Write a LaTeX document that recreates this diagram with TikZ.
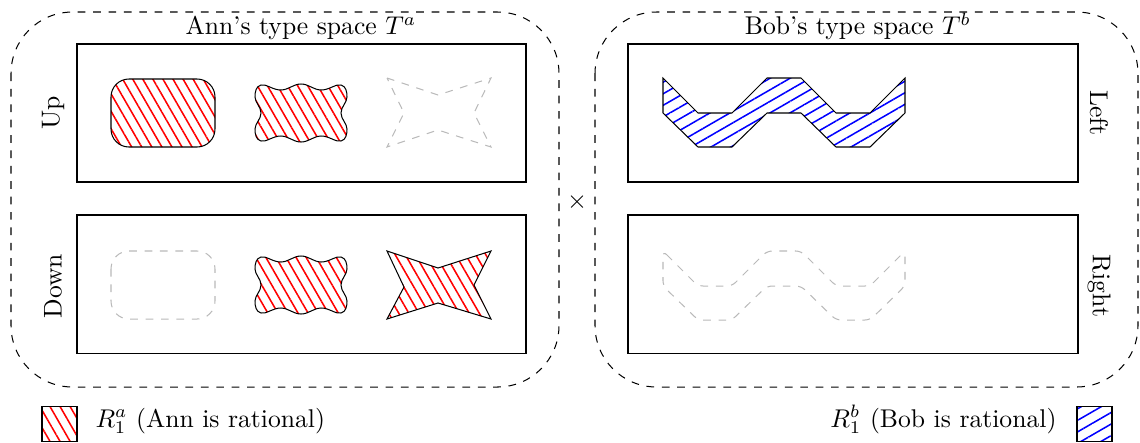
\documentclass[tikz,border=0pt]{standalone}
\usepackage{amsmath}
\usetikzlibrary{patterns.meta}

\begin{document}
\begin{tikzpicture}[x=0.39pt, y=-0.39pt,
  every node/.style={inner sep=0pt},
  space/.style={dashed, rounded corners=24pt},
  strat/.style={draw, line width=0.4pt},
  ann/.style={draw, pattern={Lines[angle=-60, distance=3.4pt, line width=0.6pt]}, pattern color=red},
  bob/.style={draw, pattern={Lines[angle=30, distance=3.9pt, line width=0.6pt]}, pattern color=blue},
  ghost/.style={draw=gray!55, dashed}]
\useasboundingbox (0,0) rectangle (1140,442);
\draw[space] (11,12) rectangle (559,387);
\draw[space] (595,12) rectangle (1138,387);
\node[anchor=base] (ta) at (301,34.5) {Ann's type space $T^a$};
\node[anchor=base] (tb) at (858,34.5) {Bob's type space $T^b$};
\node (times) at (577,202) {$\times$};
\draw[strat] (77,44) rectangle (526,182);
\draw[strat] (77,215) rectangle (526,353);
\draw[strat] (628,44) rectangle (1078,182);
\draw[strat] (628,215) rectangle (1078,353);
\node[rotate=90] (up) at (53,113) {Up};
\node[rotate=90] (down) at (53,286) {Down};
\node[rotate=-90] (left) at (1099,113) {Left};
\node[rotate=-90] (right) at (1099,286) {Right};
\draw[ann, rounded corners=7pt] (111,79) rectangle (215,147);
\draw[ghost, rounded corners=7pt] (111,251) rectangle (215,319);
\foreach \y in {113,285}
  \draw[ann, shift={(301,\y)}] plot[smooth cycle, tension=0.7] coordinates {
    (-40,-28) (-20,-23) (0,-29) (20,-23) (40,-28) (46,-16) (40,0) (46,16)
    (40,28) (20,23) (0,29) (-20,23) (-40,28) (-46,16) (-40,0) (-46,-16)};
\draw[ghost, shift={(439,113)}] (-52,-35) -- (-1,-18) -- (52,-35) -- (35,0)
  -- (52,34) -- (-1,17) -- (-52,34) -- (-35,0) -- cycle;
\draw[ann, shift={(439,285)}] (-52,-34) -- (-1,-17) -- (52,-34) -- (35,0)
  -- (52,34) -- (-1,18) -- (-52,34) -- (-35,2) -- cycle;
\draw[bob, shift={(784,113)}] (-121,-35) -- (-86,0) -- (-52,0) -- (-17,-35)
  -- (17,-35) -- (52,0) -- (86,0) -- (121,-35) -- (121,0) -- (86,34)
  -- (52,34) -- (17,0) -- (-17,0) -- (-52,34) -- (-86,34) -- (-121,0) -- cycle;
\draw[ghost, rounded corners=2pt, shift={(784,286)}] (-121,-35) -- (-86,0) -- (-52,0)
  -- (-17,-35) -- (17,-35) -- (52,0) -- (86,0) -- (121,-35) -- (121,0) -- (86,34)
  -- (52,34) -- (17,0) -- (-17,0) -- (-52,34) -- (-86,34) -- (-121,0) -- cycle;
\draw[ann] (42,406) rectangle (77,441);
\node[anchor=base west] (ra) at (95,427) {$R_1^a$ (Ann is rational)};
\draw[bob] (1077,406) rectangle (1112,441);
\node[anchor=base east] (rb) at (1057,427) {$R_1^b$ (Bob is rational)};
\end{tikzpicture}
\end{document}
